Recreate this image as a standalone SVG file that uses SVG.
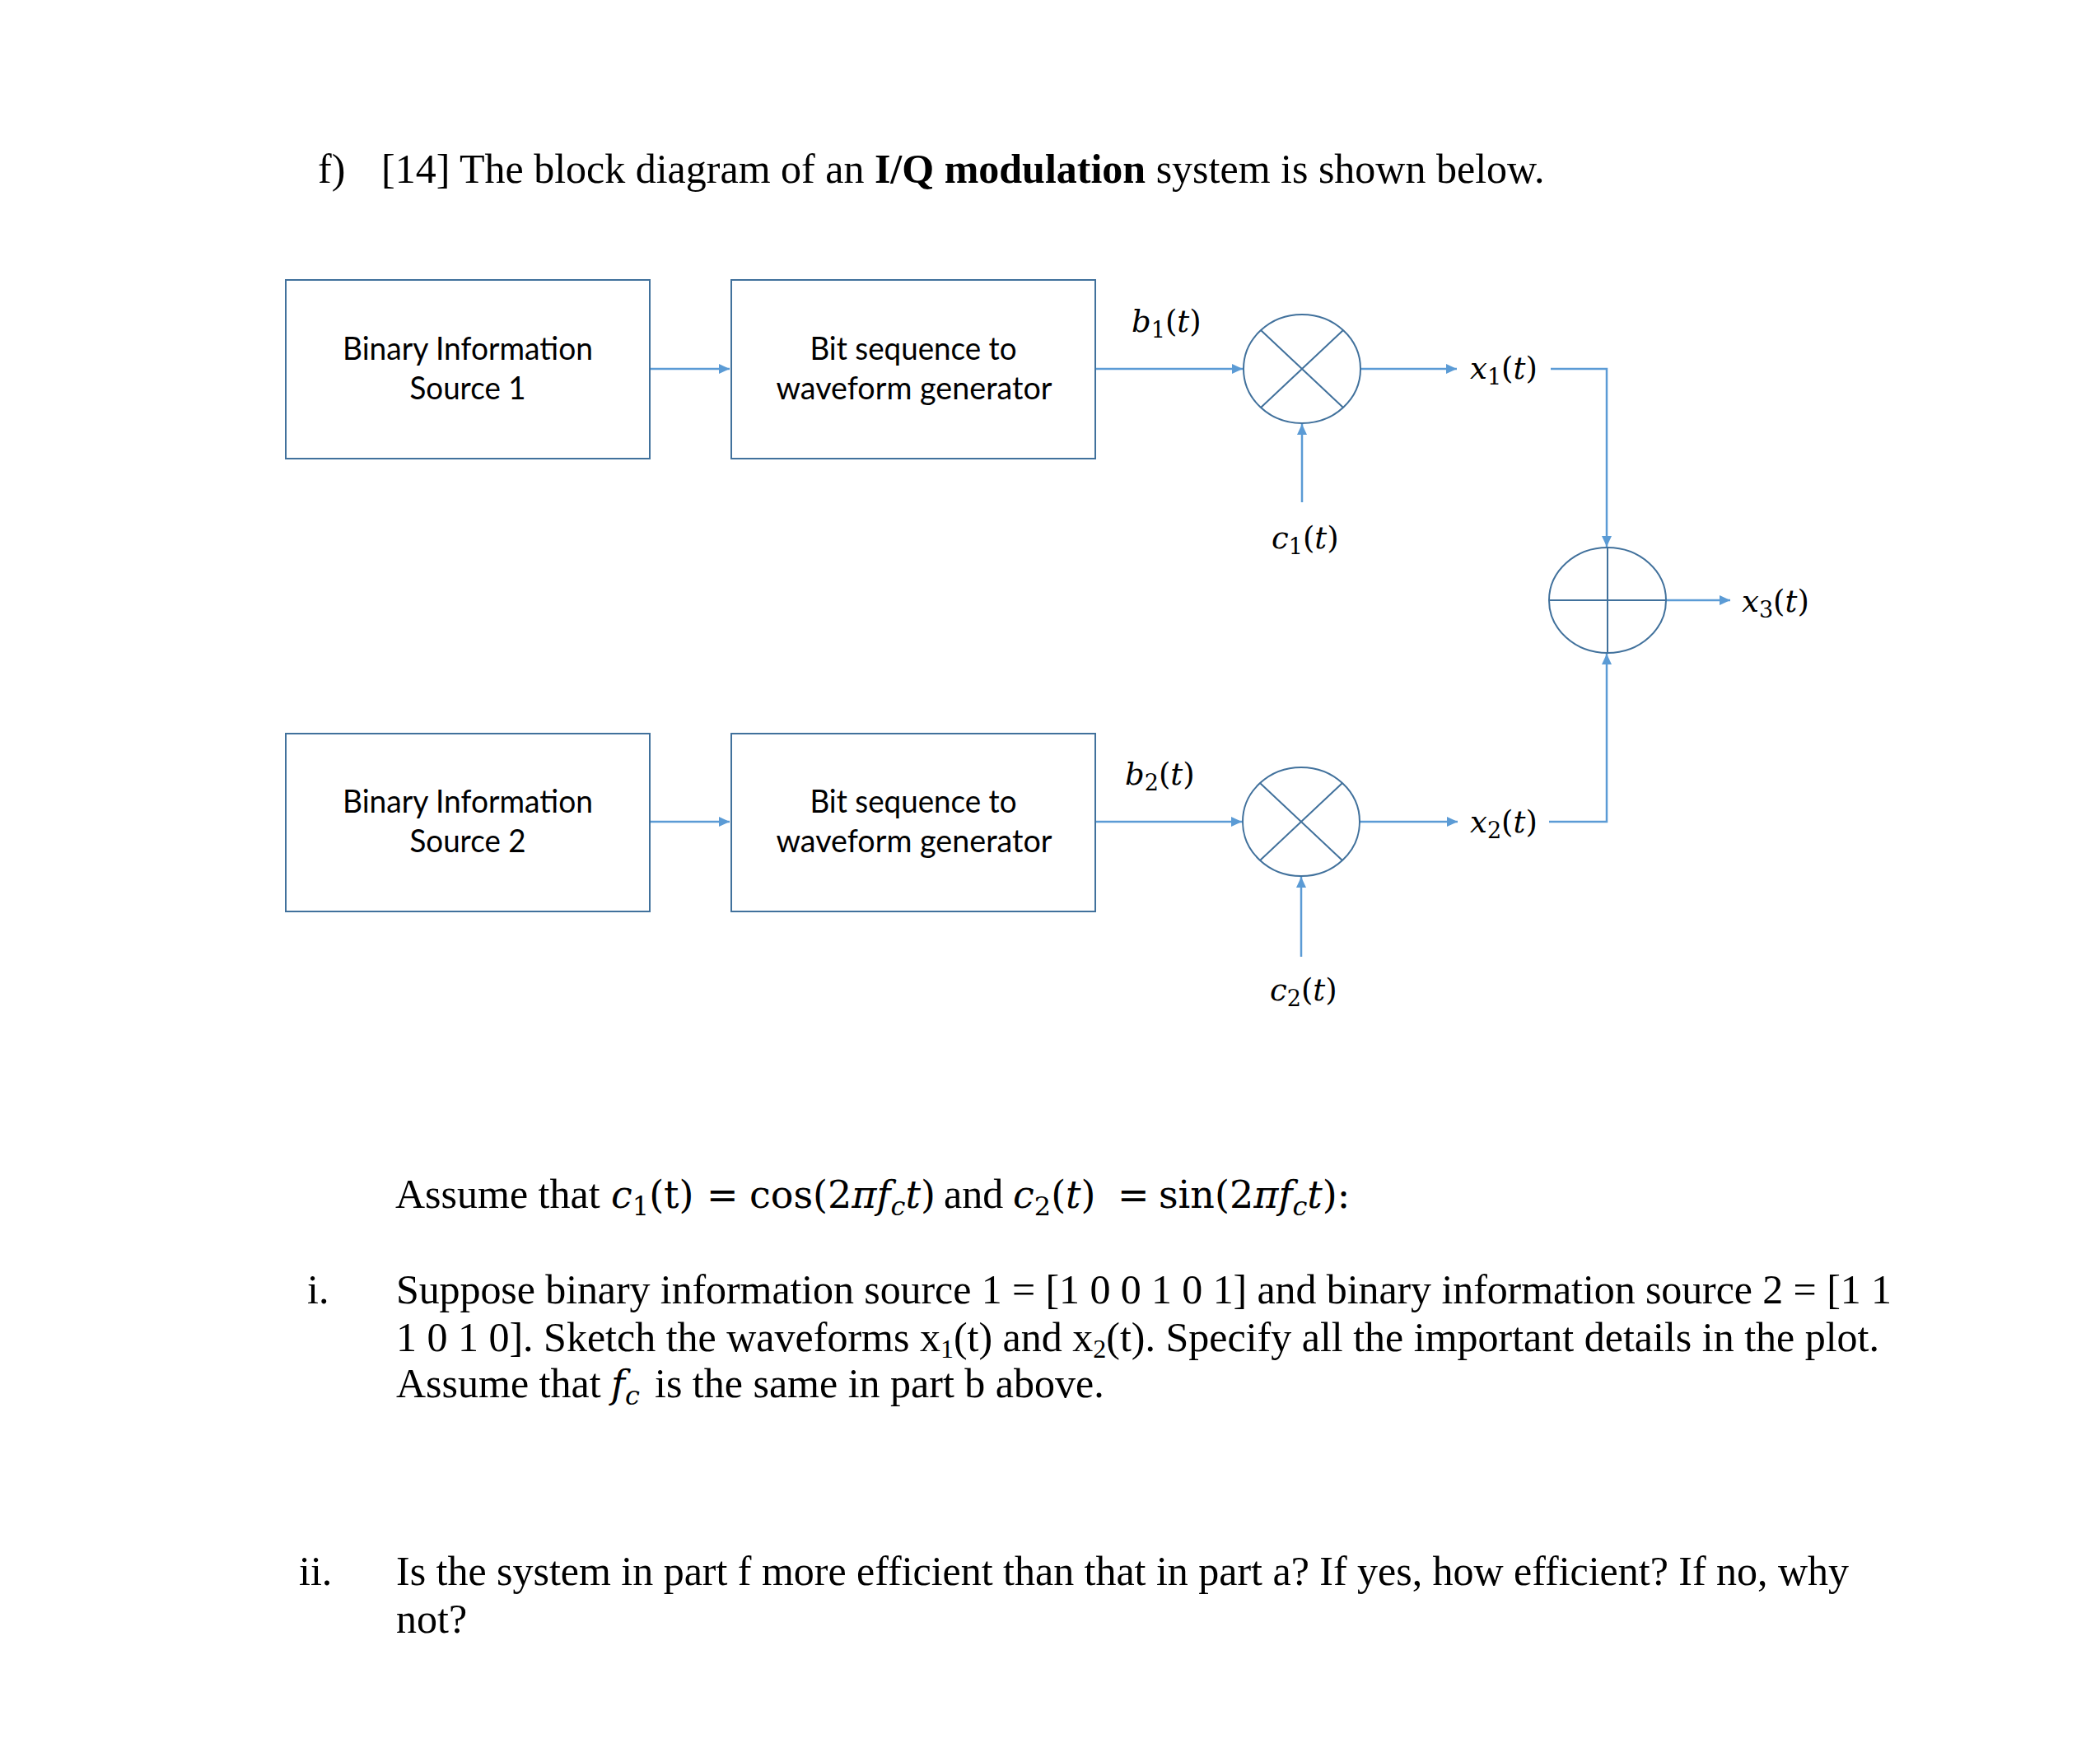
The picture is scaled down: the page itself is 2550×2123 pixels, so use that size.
<svg xmlns="http://www.w3.org/2000/svg" width="2550" height="2123" viewBox="0 0 2550 2123">
<style>
.box{fill:#fff;stroke:#41719C;stroke-width:2}
.op{fill:#fff;stroke:#41719C;stroke-width:2}
.opl{stroke:#41719C;stroke-width:2;fill:none}
.con{fill:none;stroke:#5B9BD5;stroke-width:2.5}
.lbl{font-family:Lato,"Open Sans",sans-serif;font-size:38px;fill:#000;text-anchor:middle}
.m{font-family:"DejaVu Serif",serif;font-size:37px;fill:#000}
.sub{font-size:27px}
.it{font-style:italic}
.t{font-family:"Liberation Serif","Times New Roman",serif;font-size:50px;fill:#000}
.tm{font-family:"DejaVu Serif",serif;font-size:46px}
.tsub{font-size:32px}
</style>
<defs>
<marker id="ah" markerUnits="userSpaceOnUse" markerWidth="14" markerHeight="12" refX="13" refY="6" orient="auto"><path d="M0,0 L13,6 L0,12 z" fill="#5B9BD5"/></marker>
</defs>
<rect width="2550" height="2123" fill="#fff"/>

<text class="t" x="386" y="222">f)</text>
<text class="t" x="463" y="222">[14] The block diagram of an <tspan font-weight="bold">I/Q modulation</tspan> system is shown below.</text>

<g id="connectors">
<path class="con" d="M789,448 H886" marker-end="url(#ah)"/>
<path class="con" d="M1330,448 H1509" marker-end="url(#ah)"/>
<path class="con" d="M1652,448 H1769" marker-end="url(#ah)"/>
<path class="con" d="M1581,610 V515" marker-end="url(#ah)"/>
<path class="con" d="M1883,448 H1951 V664" marker-end="url(#ah)"/>
<path class="con" d="M2023,729 H2101" marker-end="url(#ah)"/>
<path class="con" d="M789,998 H886" marker-end="url(#ah)"/>
<path class="con" d="M1330,998 H1508" marker-end="url(#ah)"/>
<path class="con" d="M1651,998 H1770" marker-end="url(#ah)"/>
<path class="con" d="M1580,1162 V1065" marker-end="url(#ah)"/>
<path class="con" d="M1881,998 H1951 V794" marker-end="url(#ah)"/>
</g>

<g id="src1">
<rect class="box" x="347" y="340" width="442" height="217"/>
<text class="lbl" x="568" y="437" textLength="304" lengthAdjust="spacingAndGlyphs">Binary Information</text>
<text class="lbl" x="568" y="485" textLength="141" lengthAdjust="spacingAndGlyphs">Source 1</text>
</g>
<g id="gen1">
<rect class="box" x="888" y="340" width="442" height="217"/>
<text class="lbl" x="1109" y="437" textLength="251" lengthAdjust="spacingAndGlyphs">Bit sequence to</text>
<text class="lbl" x="1110" y="485" textLength="335" lengthAdjust="spacingAndGlyphs">waveform generator</text>
</g>
<g id="src2">
<rect class="box" x="347" y="891" width="442" height="216"/>
<text class="lbl" x="568" y="987" textLength="304" lengthAdjust="spacingAndGlyphs">Binary Information</text>
<text class="lbl" x="568" y="1035" textLength="141" lengthAdjust="spacingAndGlyphs">Source 2</text>
</g>
<g id="gen2">
<rect class="box" x="888" y="891" width="442" height="216"/>
<text class="lbl" x="1109" y="987" textLength="251" lengthAdjust="spacingAndGlyphs">Bit sequence to</text>
<text class="lbl" x="1110" y="1035" textLength="335" lengthAdjust="spacingAndGlyphs">waveform generator</text>
</g>

<g id="mult1">
<ellipse class="op" cx="1581" cy="448" rx="71" ry="66"/>
<path class="opl" d="M1531,401 L1631,495 M1631,401 L1531,495"/>
</g>
<g id="mult2">
<ellipse class="op" cx="1580" cy="998" rx="71" ry="66"/>
<path class="opl" d="M1530,951 L1630,1045 M1630,951 L1530,1045"/>
</g>
<g id="adder">
<ellipse class="op" cx="1952" cy="729" rx="71" ry="64"/>
<path class="opl" d="M1881,729 H2023 M1952,665 V793"/>
</g>

<g id="labels">
<text class="m" x="1374" y="403"><tspan class="it">b</tspan><tspan class="sub" dy="7">1</tspan><tspan dy="-7">(</tspan><tspan class="it">t</tspan>)</text>
<text class="m" x="1785" y="460"><tspan class="it">x</tspan><tspan class="sub" dy="7">1</tspan><tspan dy="-7">(</tspan><tspan class="it">t</tspan>)</text>
<text class="m" x="1544" y="666"><tspan class="it">c</tspan><tspan class="sub" dy="7">1</tspan><tspan dy="-7">(</tspan><tspan class="it">t</tspan>)</text>
<text class="m" x="2115" y="743"><tspan class="it">x</tspan><tspan class="sub" dy="7">3</tspan><tspan dy="-7">(</tspan><tspan class="it">t</tspan>)</text>
<text class="m" x="1366" y="953"><tspan class="it">b</tspan><tspan class="sub" dy="7">2</tspan><tspan dy="-7">(</tspan><tspan class="it">t</tspan>)</text>
<text class="m" x="1785" y="1011"><tspan class="it">x</tspan><tspan class="sub" dy="7">2</tspan><tspan dy="-7">(</tspan><tspan class="it">t</tspan>)</text>
<text class="m" x="1542" y="1215"><tspan class="it">c</tspan><tspan class="sub" dy="7">2</tspan><tspan dy="-7">(</tspan><tspan class="it">t</tspan>)</text>
</g>

<g id="question">
<text class="t" y="1467"><tspan x="480">Assume that</tspan><tspan class="tm" x="742"><tspan class="it">c</tspan><tspan class="tsub" dy="9">1</tspan><tspan dy="-9">(t)</tspan></tspan><tspan class="tm" x="858">=</tspan><tspan class="tm" x="910">cos(2<tspan class="it">π</tspan><tspan class="it">f</tspan><tspan class="tsub it" dy="9">c</tspan><tspan class="it" dy="-9">t</tspan>)</tspan><tspan x="1146">and</tspan><tspan class="tm" x="1230"><tspan class="it">c</tspan><tspan class="tsub" dy="9">2</tspan><tspan dy="-9">(</tspan><tspan class="it">t</tspan>)</tspan><tspan class="tm" x="1357">=</tspan><tspan class="tm" x="1407">sin(2<tspan class="it">π</tspan><tspan class="it">f</tspan><tspan class="tsub it" dy="9">c</tspan><tspan class="it" dy="-9">t</tspan>):</tspan></text>

<text class="t" x="373" y="1583">i.</text>
<text class="t" x="481" y="1583" textLength="1816" lengthAdjust="spacing">Suppose binary information source 1 = [1 0 0 1 0 1] and binary information source 2 = [1 1</text>
<text class="t" x="481" y="1641" textLength="1801" lengthAdjust="spacing">1 0 1 0]. Sketch the waveforms x<tspan class="tsub" dy="8">1</tspan><tspan dy="-8">(t) and x</tspan><tspan class="tsub" dy="8">2</tspan><tspan dy="-8">(t). Specify all the important details in the plot.</tspan></text>
<text class="t" y="1697"><tspan x="481">Assume that</tspan><tspan class="tm it" x="742">f</tspan><tspan class="tm tsub it" dy="9">c</tspan><tspan x="795" dy="-9">is the same in part b above.</tspan></text>

<text class="t" x="363" y="1925">ii.</text>
<text class="t" x="481" y="1925" textLength="1764" lengthAdjust="spacing">Is the system in part f more efficient than that in part a? If yes, how efficient? If no, why</text>
<text class="t" x="481" y="1983">not?</text>
</g>
</svg>
